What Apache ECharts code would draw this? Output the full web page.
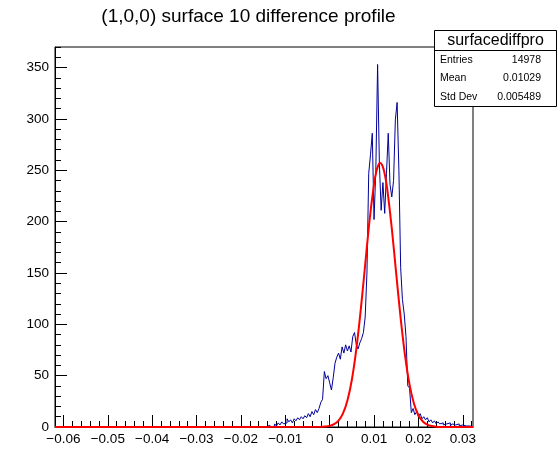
<!DOCTYPE html>
<html><head><meta charset="utf-8">
<script src="https://cdn.jsdelivr.net/npm/echarts@6/dist/echarts.min.js"></script>
<style>html,body{margin:0;padding:0;background:#fff}#c{width:558px;height:474px}</style>
</head><body><div id="c"></div>
<script>
const chartTitle = '(1,0,0) surface 10 difference profile';
const xRange = [-0.0619, 0.0323];
const yRange = [0, 370];
const xMajorTicks = [-0.06, -0.05, -0.04, -0.03, -0.02, -0.01, 0, 0.01, 0.02, 0.03];
const yMajorTicks = [0, 50, 100, 150, 200, 250, 300, 350];
const binStart = -0.014;
const binWidth = 0.0004;
const counts = [
  1, 2, 0, 1, 3, 1, 4, 2, 5, 3, 4, 8, 5, 7, 4, 8, 6, 9, 7, 10,
  8, 11, 9, 13, 10, 15, 12, 17, 14, 18, 24, 27, 54, 47, 50, 43, 36, 48, 62, 68,
  72, 66, 78, 72, 80, 74, 79, 73, 88, 92, 80, 76, 82, 86, 92, 107, 150, 247, 265, 286,
  202, 250, 353, 257, 211, 238, 208, 247, 286, 236, 224, 240, 299, 316, 250, 155, 124, 110, 88, 40,
  38, 14, 18, 12, 15, 10, 13, 8, 10, 7, 9, 5, 7, 4, 6, 3, 5, 3, 4, 2,
  3, 2, 4, 1, 3, 2, 1, 3, 1, 2, 3, 1, 2, 1, 0
];
const fitX = [-0.0619, -0.002, -0.001, 0, 0.001, 0.002, 0.003, 0.004, 0.005, 0.006, 0.007, 0.008, 0.009, 0.010, 0.0105, 0.011, 0.0114, 0.012, 0.0125, 0.013, 0.014, 0.015, 0.016, 0.017, 0.018, 0.019, 0.020, 0.021, 0.022, 0.023, 0.024, 0.025, 0.0323];
const fitY = [0, 0.14, 0.4, 1.1, 2.7, 6.3, 13.3, 25.8, 46, 75.5, 114, 158, 201.7, 236.7, 248.4, 255.3, 257, 253.1, 244.3, 230.8, 193.4, 149.1, 105.7, 68.9, 41.2, 22.7, 11.5, 5.3, 2.3, 0.9, 0.3, 0.1, 0];
const statsName = 'surfacediffpro';
const statsLabels = ['Entries', 'Mean', 'Std Dev'];
const statsValues = ['14978', '0.01029', '0.005489'];

const FONT = 'Liberation Sans, Arial, Helvetica, sans-serif';

// minor tick positions
const xMinorTicks = [];
for (let k = -31; k <= 16; k++) { const v = Math.round(k * 2) / 1000; if (v >= xRange[0] && v <= xRange[1]) xMinorTicks.push(v); }
const yMinorTicks = [];
for (let v = 0; v <= yRange[1]; v += 10) yMinorTicks.push(v);

// histogram outline
const histData = [[xRange[0], 0]];
counts.forEach((c, i) => histData.push([binStart + i * binWidth, c]));
histData.push([binStart + counts.length * binWidth, 0]);
histData.push([xRange[1], 0]);
const fitData = fitX.map((x, i) => [x, fitY[i]]);

function fmtX(v) {
  const r = Math.round(v * 1000) / 1000;
  if (r === 0) return '0';
  const s = String(Math.abs(r));
  return (r < 0 ? '\u2212' : '') + s;
}

const chart = echarts.init(document.getElementById('c'), null, {renderer: 'canvas'});
const tickStyle = {color: '#000', width: 1};
chart.setOption({
  animation: false,
  backgroundColor: '#fff',
  grid: {left: 55, right: 85, top: 47, bottom: 47, show: true, borderColor: '#000', borderWidth: 1, backgroundColor: 'transparent'},
  xAxis: [
    {type: 'value', min: xRange[0], max: xRange[1], position: 'bottom',
     axisLine: {show: true, onZero: false, lineStyle: {color: '#000'}},
     splitLine: {show: false},
     axisTick: {show: true, inside: true, length: 12, customValues: xMajorTicks, lineStyle: tickStyle},
     axisLabel: {show: true, customValues: xMajorTicks, formatter: fmtX, color: '#000', fontSize: 13.5, fontFamily: FONT, margin: 5}},
    {type: 'value', min: xRange[0], max: xRange[1], position: 'bottom',
     axisLine: {show: false, onZero: false}, splitLine: {show: false},
     axisTick: {show: true, inside: true, length: 6, customValues: xMinorTicks, lineStyle: tickStyle},
     axisLabel: {show: false}}
  ],
  yAxis: [
    {type: 'value', min: yRange[0], max: yRange[1], position: 'left',
     axisLine: {show: true, onZero: false, lineStyle: {color: '#000'}},
     splitLine: {show: false},
     axisTick: {show: true, inside: true, length: 12, customValues: yMajorTicks, lineStyle: tickStyle},
     axisLabel: {show: true, customValues: yMajorTicks, color: '#000', fontSize: 13.5, fontFamily: FONT, margin: 6}},
    {type: 'value', min: yRange[0], max: yRange[1], position: 'left',
     axisLine: {show: false, onZero: false}, splitLine: {show: false},
     axisTick: {show: true, inside: true, length: 6, customValues: yMinorTicks, lineStyle: tickStyle},
     axisLabel: {show: false}}
  ],
  series: [
    {type: 'line', xAxisIndex: 0, yAxisIndex: 0, data: histData, step: 'end', showSymbol: false, symbol: 'none',
     lineStyle: {color: '#000099', width: 1}, z: 2, silent: true},
    {type: 'line', xAxisIndex: 0, yAxisIndex: 0, data: fitData, smooth: 0.3, showSymbol: false, symbol: 'none',
     lineStyle: {color: '#ff0000', width: 2}, z: 3, silent: true}
  ],
  graphic: [
    {type: 'text', x: 248.5, y: 17, z: 100,
     style: {text: chartTitle, font: '19px ' + FONT, fill: '#000', textAlign: 'center', textVerticalAlign: 'middle', align: 'center', verticalAlign: 'middle'}},
    {type: 'rect', z: 100, shape: {x: 434.5, y: 30.5, width: 122, height: 76},
     style: {fill: '#fff', stroke: '#000', lineWidth: 1}},
    {type: 'line', z: 101, shape: {x1: 434.5, y1: 50.5, x2: 556.5, y2: 50.5}, style: {stroke: '#000', lineWidth: 1}},
    {type: 'text', x: 495.5, y: 40.5, z: 102,
     style: {text: statsName, font: '16px ' + FONT, fill: '#000', textAlign: 'center', textVerticalAlign: 'middle', align: 'center', verticalAlign: 'middle'}},
    ...statsLabels.map((t, i) => ({type: 'text', x: 440, y: 60 + i * 18.5, z: 102,
      style: {text: t, font: '10.5px ' + FONT, fill: '#000', textAlign: 'left', textVerticalAlign: 'middle', align: 'left', verticalAlign: 'middle'}})),
    ...statsValues.map((t, i) => ({type: 'text', x: 541, y: 60 + i * 18.5, z: 102,
      style: {text: t, font: '10.5px ' + FONT, fill: '#000', textAlign: 'right', textVerticalAlign: 'middle', align: 'right', verticalAlign: 'middle'}}))
  ]
});
</script></body></html>
